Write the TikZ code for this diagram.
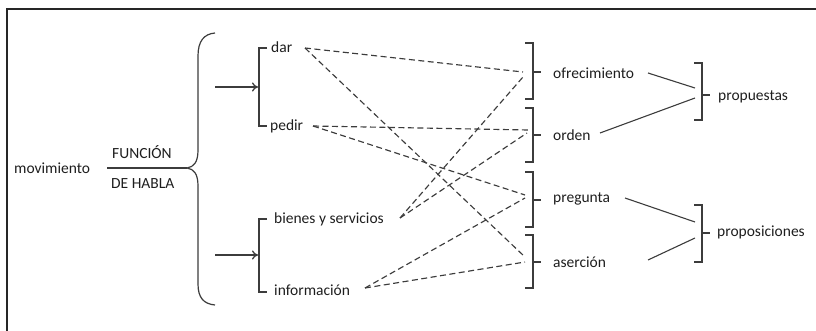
\documentclass[tikz,border=0pt]{standalone}
\usepackage{fontspec}
\setmainfont{Carlito}[Scale=1.55]
\usetikzlibrary{arrows.meta}
\definecolor{ln}{HTML}{3C3C3C}
\definecolor{tx}{HTML}{1E1E1E}
\tikzset{
  lbl/.style={anchor=west,inner sep=0pt,text=tx},
  dsh/.style={draw=ln,line width=1.15pt,dash pattern=on 6pt off 3.5pt},
  sol/.style={draw=ln,line width=1.1pt},
  brk/.style={draw=ln,line width=1.2pt},
  arr/.style={draw=ln,line width=1.3pt,-{To[length=6pt,width=9pt]}}
}
\begin{document}
\begin{tikzpicture}[x=1pt,y=-1pt]
\useasboundingbox (0,0) rectangle (816,331);
% frame
\draw[line width=2pt,draw=black!85] (7,331) -- (7,9) -- (816,9);
% left texts
\node[lbl] (mov) at (14,168) {movimiento};
\node[lbl] (fun) at (112,152) {FUNCIÓN};
\node[lbl] (hab) at (111,184) {DE HABLA};
\coordinate (hl) at (107,168);
\coordinate (ht) at (187,168);
\draw[sol] (hl) -- (ht);
% big brace
\draw[brk] (215,33) .. controls (204,34) and (198,41) .. (198,56) -- (198,150)
  .. controls (198,162) and (194,167) .. (ht)
  .. controls (194,169) and (198,174) .. (198,186) -- (198,284)
  .. controls (198,298) and (204,304) .. (215,305);
% arrows
\coordinate (a1s) at (215,87); \coordinate (a1e) at (258,87);
\coordinate (a2s) at (215,255); \coordinate (a2e) at (258,255);
\draw[arr] (a1s) -- (a1e);
\draw[arr] (a2s) -- (a2e);
% left brackets
\draw[brk] (267,48) -- (259,48) -- (259,126) -- (267,126);
\draw[brk] (267,219) -- (259,219) -- (259,292) -- (267,292);
\node[lbl] (dar) at (271,47) {dar};
\node[lbl] (ped) at (270,126) {pedir};
\node[lbl] (bie) at (274,219) {bienes y servicios};
\node[lbl] (inf) at (274,290) {información};
% right brackets
\draw[brk] (525,43) -- (533,43) -- (533,99) -- (525,99) (533,72) -- (541,72);
\draw[brk] (525,108) -- (533,108) -- (533,162) -- (525,162) (533,135) -- (541,135);
\draw[brk] (525,172) -- (533,172) -- (533,227) -- (525,227) (533,200) -- (541,200);
\draw[brk] (525,235) -- (533,235) -- (533,288) -- (525,288) (533,262) -- (541,262);
\node[lbl] (ofr) at (553,73) {ofrecimiento};
\node[lbl] (ord) at (553,135) {orden};
\node[lbl] (pre) at (553,199) {pregunta};
\node[lbl] (ase) at (553,262) {aserción};
% far right brackets
\draw[brk] (694,63) -- (702,63) -- (702,120) -- (694,120) (702,95) -- (710,95);
\draw[brk] (694,205) -- (702,205) -- (702,262) -- (694,262) (702,233) -- (710,233);
\node[lbl] (pro) at (718,97) {propuestas};
\node[lbl] (pos) at (717,232) {proposiciones};
% dashed endpoints
\coordinate (dE) at (305,48);
\coordinate (pE) at (313,126);
\coordinate (bE) at (400,218);
\coordinate (iE) at (365,288);
\coordinate (o1) at (523,72); \coordinate (o2) at (523,77);
\coordinate (r1) at (528,130); \coordinate (r2) at (527,133);
\coordinate (g1) at (525,195); \coordinate (g2) at (525,198);
\coordinate (s1) at (525,257); \coordinate (s2) at (525,262);
\draw[dsh] (dE) -- (o1);
\draw[dsh] (dE) -- (s1);
\draw[dsh] (pE) -- (r1);
\draw[dsh] (pE) -- (g1);
\draw[dsh] (bE) -- (o2);
\draw[dsh] (bE) -- (r2);
\draw[dsh] (iE) -- (g2);
\draw[dsh] (iE) -- (s2);
% solid lines
\coordinate (ofE) at (648,73); \coordinate (orE) at (600,133);
\coordinate (prE) at (625,198); \coordinate (asE) at (648,260);
\coordinate (p1) at (695,88); \coordinate (p2) at (695,98);
\coordinate (q1) at (695,222); \coordinate (q2) at (695,238);
\draw[sol] (ofE) -- (p1);
\draw[sol] (orE) -- (p2);
\draw[sol] (prE) -- (q1);
\draw[sol] (asE) -- (q2);
\end{tikzpicture}
\end{document}
